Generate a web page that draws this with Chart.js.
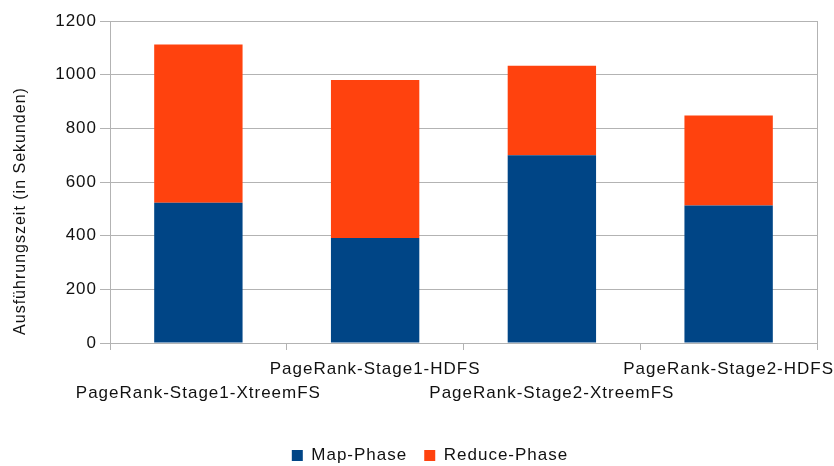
<!DOCTYPE html>
<html>
<head>
<meta charset="utf-8">
<script src="https://cdn.jsdelivr.net/npm/chart.js@4/dist/chart.umd.min.js"></script>
<style>
  html, body { margin: 0; padding: 0; background: #fff; }
  #wrap { width: 834px; height: 466px; }
</style>
</head>
<body>
<div id="wrap"><canvas id="c"></canvas></div>
<script>
// Laufzeiten der PageRank-Stufen (Sekunden)
const categories = [
  'PageRank-Stage1-XtreemFS',
  'PageRank-Stage1-HDFS',
  'PageRank-Stage2-XtreemFS',
  'PageRank-Stage2-HDFS'
];
const seriesNames = ['Map-Phase', 'Reduce-Phase'];
const mapPhase = [523, 391, 700, 512];
const reducePhase = [589, 589, 333, 336];
const yTicks = [0, 200, 400, 600, 800, 1000, 1200];
const yTitle = 'Ausführungszeit (in Sekunden)';

const FONT = '"Liberation Sans", Arial, sans-serif';
const GRID = '#b3b3b3';
const TEXT = '#111111';

// category labels alternate between two rows so the long names do not collide
const staggered = categories.map((name, i) => (i % 2 === 0 ? ['', name] : [name, '']));

// slightly open letter spacing on every text drawn on the canvas
const spacingPlugin = {
  id: 'spacing',
  beforeUpdate(chart) { chart.ctx.letterSpacing = '1px'; },
  beforeDraw(chart) { chart.ctx.letterSpacing = '1px'; }
};

// vertical axis caption, centred on the whole figure rather than the plot area
const yTitlePlugin = {
  id: 'yTitle',
  afterDraw(chart) {
    const ctx = chart.ctx;
    const area = chart.chartArea;
    ctx.save();
    ctx.font = '16px ' + FONT;
    ctx.letterSpacing = '1px';
    ctx.fillStyle = TEXT;
    ctx.textAlign = 'center';
    ctx.textBaseline = 'middle';
    ctx.translate(area.left - 89, (area.top + area.bottom) / 2 + 29);
    ctx.rotate(-Math.PI / 2);
    ctx.fillText(yTitle, 0, 0);
    ctx.restore();
  }
};

new Chart(document.getElementById('c'), {
  type: 'bar',
  data: {
    labels: staggered,
    datasets: [
      { label: seriesNames[0], data: mapPhase, backgroundColor: '#004586', borderWidth: 0 },
      { label: seriesNames[1], data: reducePhase, backgroundColor: '#ff420e', borderWidth: 0 }
    ]
  },
  options: {
    responsive: true,
    maintainAspectRatio: false,
    animation: false,
    devicePixelRatio: 1,
    layout: { padding: { left: 43, top: 21, right: 17, bottom: -8 } },
    datasets: { bar: { barPercentage: 0.5, categoryPercentage: 1.0 } },
    plugins: {
      tooltip: { enabled: false },
      legend: {
        position: 'bottom',
        labels: {
          boxWidth: 11,
          boxHeight: 11,
          padding: 17,
          color: TEXT,
          font: { family: FONT, size: 17 }
        }
      }
    },
    scales: {
      x: {
        stacked: true,
        offset: true,
        grid: {
          offset: true,
          drawOnChartArea: false,
          drawTicks: true,
          tickLength: 7,
          tickColor: GRID,
          color: GRID
        },
        border: { display: true, color: GRID, width: 1 },
        ticks: {
          autoSkip: false,
          maxRotation: 0,
          minRotation: 0,
          padding: 7,
          color: TEXT,
          font: { family: FONT, size: 17, lineHeight: 1.41 }
        },
        afterFit(scale) {
          scale.height = 87;
          scale.paddingLeft = 0;
          scale.paddingRight = 0;
        }
      },
      y: {
        stacked: true,
        min: yTicks[0],
        max: yTicks[yTicks.length - 1],
        afterBuildTicks(scale) { scale.ticks = yTicks.map(v => ({ value: v })); },
        grid: { color: GRID, lineWidth: 1, tickLength: 10, tickColor: GRID },
        border: { display: true, color: GRID, width: 1 },
        ticks: {
          padding: 3,
          color: TEXT,
          font: { family: FONT, size: 17 },
          callback: (value) => String(value)
        },
        afterFit(scale) { scale.width = 67; }
      },
      yRight: {
        position: 'right',
        display: true,
        grid: { drawOnChartArea: false, drawTicks: false },
        border: { display: true, color: GRID, width: 1 },
        ticks: { display: false },
        afterFit(scale) { scale.width = 0; }
      }
    }
  },
  plugins: [spacingPlugin, yTitlePlugin]
});
</script>
</body>
</html>
